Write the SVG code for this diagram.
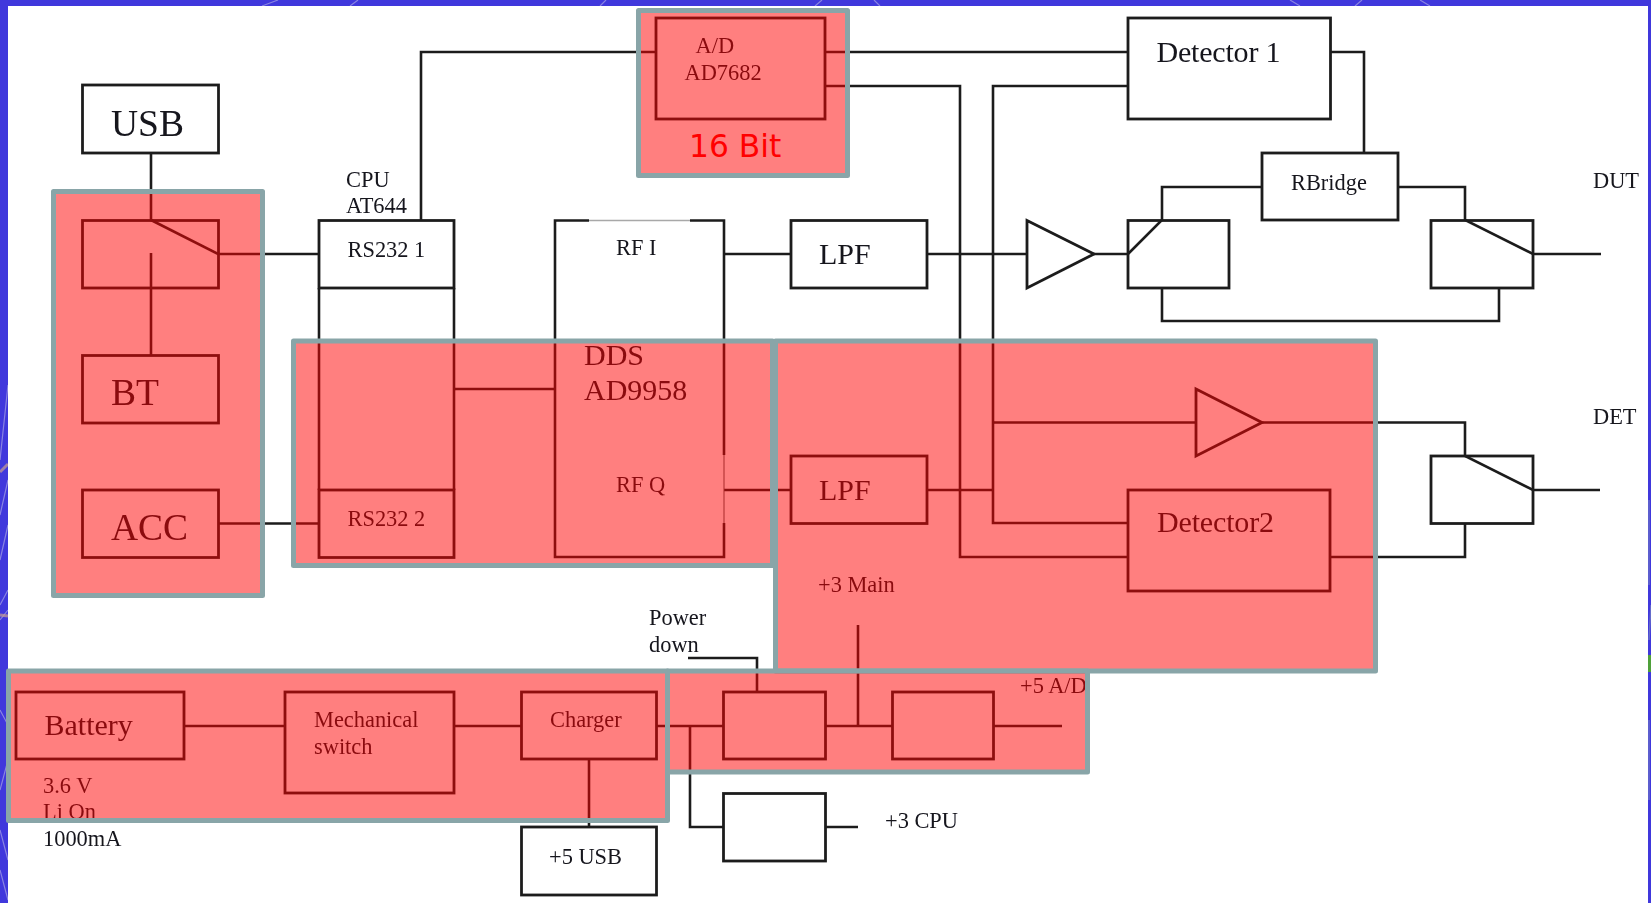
<svg xmlns="http://www.w3.org/2000/svg" width="1651" height="903" viewBox="0 0 1651 903">
<defs><filter id="soft" x="-2%" y="-2%" width="104%" height="104%"><feGaussianBlur stdDeviation="0.45"/></filter></defs>
<style>
.ln{fill:none;stroke:#1c1c1c;stroke-width:2.6;stroke-linejoin:miter}
.box{fill:none;stroke:#1c1c1c;stroke-width:2.8}
.t{font-family:"Liberation Serif","Times New Roman",serif;fill:#14141c}
.s{font-size:22.400px}
.m{font-size:30px}
.l{font-size:37.500px}
.panel{fill:#ff0000;fill-opacity:.5;stroke:#89a5a8;stroke-width:5;stroke-opacity:1;stroke-linejoin:round}
.bit{font-family:"DejaVu Sans",Verdana,sans-serif;font-size:31.300px;fill:#ff0000}
.tex{fill:none;stroke:#b9b6e6;stroke-width:1.200;stroke-opacity:.6}
</style>
<rect width="1651" height="903" fill="#4038dc"/>
<g id="backdrop">
<path class="tex" d="M262 6L278 0M350 6L358 0M600 6L606 0M815 6L822 0M880 6L874 0M1300 6L1290 0M1355 6L1362 0M1430 6L1420 0"/>
<path class="tex" d="M8 385L0 460M8 480L0 515M8 525L0 560M8 590L0 605M0 620L8 610M0 710L8 725M0 790L8 760M0 830L8 860M0 870L8 900"/>
<path fill="none" stroke="#c9a08f" stroke-width="3" stroke-opacity=".7" d="M0 472L8 464M0 615L8 616"/>
<path fill="none" stroke="#4fa03a" stroke-width="7" d="M1651 655V672"/>
<path fill="none" stroke="#7f90c0" stroke-width="1.500" stroke-opacity=".6" d="M1649 500V585M1651 605L1649 640M1649 720V800"/>
</g>
<rect x="8" y="6" width="1640" height="897" fill="#ffffff"/>

<g filter="url(#soft)">
<g id="connectors">
<path class="ln" d="M151 153V220"/>
<path class="ln" d="M151 220L218 254H319"/>
<path class="ln" d="M151 253V355"/>
<path class="ln" d="M218 523.500H319"/>
<path class="ln" d="M421 220V52H656"/>
<path class="ln" d="M319 288V490M454 288V490"/>
<path class="ln" d="M454 389H555"/>
<path class="ln" d="M724 254H791"/>
<path class="ln" d="M927 254H1027"/>
<path class="ln" d="M1093 254H1128"/>
<path class="ln" d="M724 490H791"/>
<path class="ln" d="M927 490H993"/>
<path class="ln" d="M825 52H1127"/>
<path class="ln" d="M825 86H960V557H1128"/>
<path class="ln" d="M1127 86H993V523H1128"/>
<path class="ln" d="M993 422.500H1196"/>
<path class="ln" d="M1262 422.500H1465V456L1533 490H1600"/>
<path class="ln" d="M1330 557H1465V523"/>
<path class="ln" d="M1331 52H1364V153"/>
<path class="ln" d="M1262 187H1162V220L1128 254"/>
<path class="ln" d="M1398 187H1465V220L1533 254H1601"/>
<path class="ln" d="M1162 288V321H1499V288"/>
<path class="ln" d="M184 726H285M454 726H521M656 726H723M825 726H892M993 726H1062"/>
<path class="ln" d="M589 759V827"/>
<path class="ln" d="M690 726V827H723"/>
<path class="ln" d="M825 827H858"/>
<path class="ln" d="M858 625V726"/>
<path class="ln" d="M688 658H757V692"/>
</g>

<g id="usb"><rect class="box" x="82.500" y="85" width="136" height="68"/><text class="t l" x="111" y="136">USB</text></g>
<g id="switch-in"><rect class="box" x="82.500" y="220.500" width="136" height="67.500"/></g>
<g id="bt"><rect class="box" x="82.500" y="355.500" width="136" height="67.500"/><text class="t l" x="111" y="405">BT</text></g>
<g id="acc"><rect class="box" x="82.500" y="490" width="136" height="67.500"/><text class="t l" x="111" y="540">ACC</text></g>
<g id="cpu-label"><text class="t s" x="346" y="187">CPU</text><text class="t s" x="346" y="213">AT644</text></g>
<g id="rs232-1"><rect class="box" x="319" y="220.500" width="135" height="67.500"/><text class="t s" x="347.500" y="257">RS232 1</text></g>
<g id="rs232-2"><rect class="box" x="319" y="490" width="135" height="67.500"/><text class="t s" x="347.500" y="526">RS232 2</text></g>
<g id="dds">
<path class="ln" d="M589 220.500H555V557H724V523M724 455V220.500H690"/>
<path fill="none" stroke="#a8a8a8" stroke-width="1.600" d="M589 220.500H690"/>
<path fill="none" stroke="#555555" stroke-width="1" d="M724 455V523"/>
<text class="t s" x="616" y="255">RF I</text>
<text class="t m" x="584" y="365">DDS</text>
<text class="t m" x="584" y="400">AD9958</text>
<text class="t s" x="616" y="492">RF Q</text>
</g>
<g id="lpf-1"><rect class="box" x="791" y="220.500" width="136" height="67.500"/><text class="t m" x="819" y="264">LPF</text></g>
<g id="lpf-2"><rect class="box" x="791" y="456" width="136" height="67.500"/><text class="t m" x="819" y="500">LPF</text></g>
<g id="ad"><rect class="box" x="656" y="18" width="169" height="101"/><text class="t s" x="695.500" y="53">A/D</text><text class="t s" x="684.500" y="80">AD7682</text></g>
<g id="detector-1"><rect class="box" x="1128" y="18" width="202.500" height="101"/><text class="t m" x="1156.500" y="62" textLength="124">Detector 1</text></g>
<g id="rbridge"><rect class="box" x="1262" y="153" width="136" height="67"/><text class="t s" x="1291" y="190">RBridge</text></g>
<g id="amp-1"><path class="box" d="M1027 220.500L1094 254L1027 288Z"/></g>
<g id="switch-left"><rect class="box" x="1128" y="220.500" width="101" height="67.500"/></g>
<g id="switch-right"><rect class="box" x="1431" y="220.500" width="102" height="67.500"/></g>
<g id="dut"><text class="t s" x="1593" y="188">DUT</text></g>
<g id="amp-2"><path class="box" d="M1196 389L1262 422.500L1196 456Z"/></g>
<g id="detector-2"><rect class="box" x="1128" y="490" width="202" height="101"/><text class="t m" x="1157" y="532" textLength="117">Detector2</text></g>
<g id="switch-det"><rect class="box" x="1431" y="456" width="102" height="67.500"/></g>
<g id="det"><text class="t s" x="1593" y="424">DET</text></g>
<g id="main-label"><text class="t s" x="818" y="592">+3 Main</text></g>
<g id="power-down"><text class="t s" x="649" y="625">Power</text><text class="t s" x="649" y="652">down</text></g>
<g id="battery"><rect class="box" x="16" y="692" width="168" height="67"/><text class="t m" x="44.500" y="735">Battery</text></g>
<g id="battery-label"><text class="t s" x="43" y="793">3.6 V</text><text class="t s" x="43" y="819">Li On</text><text class="t s" x="43" y="846">1000mA</text></g>
<g id="mech"><rect class="box" x="285" y="692" width="169" height="101"/><text class="t s" x="314" y="727">Mechanical</text><text class="t s" x="314" y="754">switch</text></g>
<g id="charger"><rect class="box" x="521.500" y="692" width="135" height="67"/><text class="t s" x="550" y="727">Charger</text></g>
<g id="usb5"><rect class="box" x="521.500" y="827" width="135" height="68"/><text class="t s" x="549" y="864">+5 USB</text></g>
<g id="reg-1"><rect class="box" x="723.500" y="692" width="102" height="67"/></g>
<g id="reg-2"><rect class="box" x="892.500" y="692" width="101" height="67"/></g>
<g id="reg-3"><rect class="box" x="723.500" y="793.500" width="102" height="67.500"/></g>
<g id="cpu3"><text class="t s" x="885" y="828">+3 CPU</text></g>
<g id="ad5"><text class="t s" x="1020" y="693">+5 A/D</text></g>
</g>

<g id="highlight-1"><rect class="panel" x="53.500" y="191.500" width="209" height="404"/></g>
<g id="highlight-2"><rect class="panel" x="293.500" y="341" width="479" height="224.500"/></g>
<g id="highlight-3"><rect class="panel" x="775.500" y="341" width="600" height="330"/></g>
<g id="highlight-4"><rect class="panel" x="638.500" y="10.500" width="209" height="165"/></g>
<g id="highlight-5"><rect class="panel" x="667.500" y="671" width="420" height="101"/></g>
<g id="highlight-6"><rect class="panel" x="8.500" y="671" width="659" height="149.500"/></g>
<g id="bit-label"><text class="bit" x="689" y="157">16 Bit</text></g>
</svg>
